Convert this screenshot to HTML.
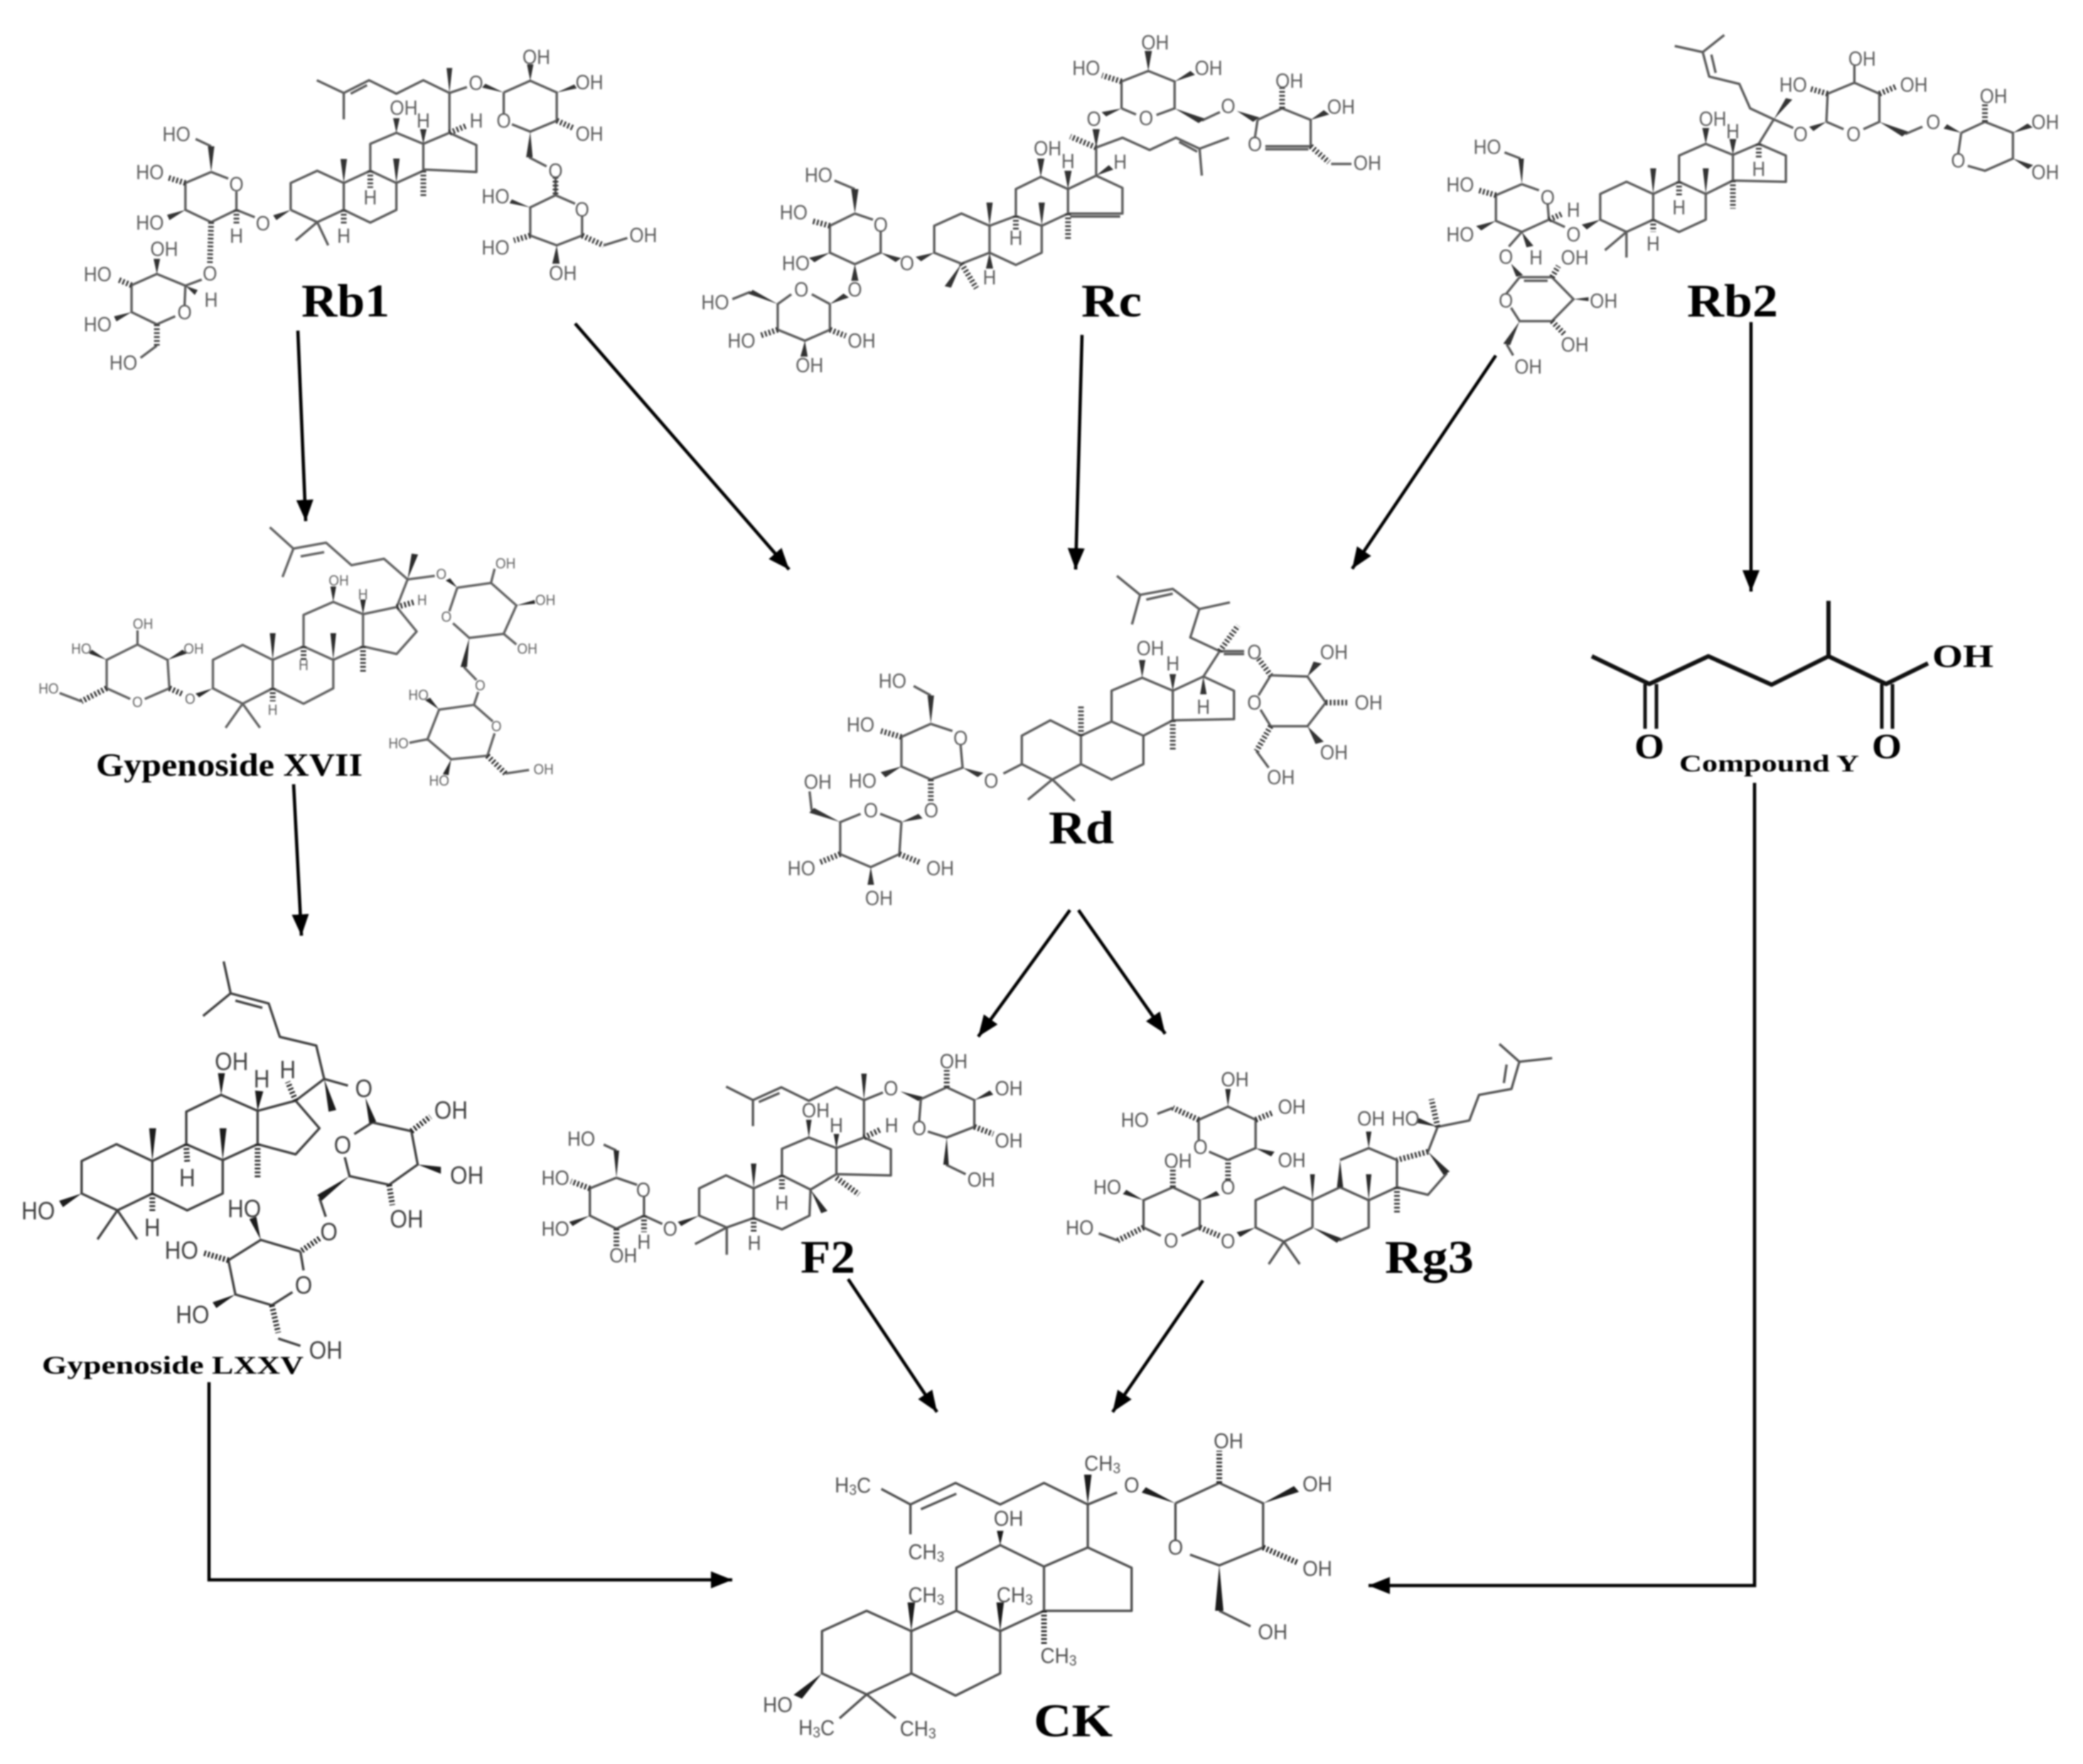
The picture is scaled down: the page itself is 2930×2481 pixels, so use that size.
<!DOCTYPE html>
<html><head><meta charset="utf-8"><style>
html,body{margin:0;padding:0;background:#fff}
svg{display:block;filter:blur(1.1px)}
.m text{font-family:"Liberation Sans",sans-serif;text-anchor:middle;dominant-baseline:central;transform-box:fill-box;transform-origin:center;transform:scale(.93,calc(var(--r)*1.03));fill:var(--c)}
.m path{fill:none;stroke:var(--c);stroke-width:3.4;vector-effect:non-scaling-stroke;stroke-linejoin:round}
.m path.w{fill:var(--k);stroke:none}
.m path.h{stroke:var(--k);stroke-width:8;stroke-dasharray:2.5 3}
.L{font-family:"Liberation Serif",serif;font-weight:bold;fill:#000}
.a{stroke:#000;stroke-width:4.6;fill:none;marker-end:url(#t)}
.s{font-size:.7em}
</style></head><body>
<svg xmlns="http://www.w3.org/2000/svg" width="2930" height="2481" viewBox="0 0 2930 2481">
<defs><marker id="t" markerUnits="userSpaceOnUse" markerWidth="34" markerHeight="26" refX="30" refY="13" orient="auto"><path d="M0 1 30 13 0 25z" fill="#000"/></marker></defs>
<rect width="2930" height="2481" fill="#fff"/>

<!-- Rb1 -->
<g class="m" transform="translate(80 20) scale(.574 .344)" style="--r:1.667;--c:#5c5c5c;--k:#333;font-size:49px">
<path d="M637 270 703 322 703 430M703 322 765 270 832 325 898 270 962 322 1005 298M720 325 760 290M962 322 962 485M1095 320 1160 272 1225 320 1225 435 1160 480 1115 450M1095 320 1095 410M1157 585 1200 622M1222 665 1222 740 1270 775M1287 825 1287 905 1225 945 1160 905 1160 790 1222 740M1340 945 1398 915M573 800 573 690 638 640 703 690 703 800 638 850 573 800M638 850 585 925M638 850 665 945M703 690 768 640 832 690 832 800 768 852 703 800M768 640 768 530 832 485 898 530 898 640 832 690M898 530 962 485 1028 535 1028 645 898 635M378 645 420 672M440 725 440 800 378 850 315 800 315 690 378 645M378 540 340 510M440 800 485 830M355 1085 315 1110 313 1190M290 1235 245 1268 183 1218 183 1108 245 1062 315 1110M245 1355 205 1405"/>
<path class="w" d="M962 322 955 220 969 220zM1095 320 1050 284 1042 300zM1160 272 1152 205 1168 205zM1225 320 1268 287 1274 303zM1160 480 1150 585 1166 585zM1160 790 1115 757 1109 773zM1225 945 1214 1020 1232 1020zM703 690 695 592 711 592zM832 690 824 590 840 590zM832 485 824 425 840 425zM898 530 890 470 906 470zM573 800 530 822 538 842zM378 645 370 540 386 540zM315 800 270 820 276 842zM245 1062 237 1000 253 1000zM183 1218 140 1235 146 1256zM315 1110 345 1128 338 1148z"/>
<path class="h" d="M1225 435 1265 465M1222 665 1222 740M1160 905 1120 925M1287 905 1340 945M703 800 703 860M768 640 768 710M962 485 1005 455M898 640 898 745M315 690 272 668M440 800 440 860M378 850 375 1020M183 1108 150 1085M245 1268 245 1355"/>
<text x="1027" y="280">O</text><text x="1175" y="175">OH</text><text x="1305" y="278">OH</text><text x="1095" y="435">O</text><text x="1305" y="488">OH</text><text x="1222" y="640">O</text><text x="1075" y="745">HO</text><text x="1287" y="798">O</text><text x="1075" y="953">HO</text><text x="1240" y="1058">OH</text><text x="1437" y="903">OH</text><text x="850" y="382">OH</text><text x="898" y="435">H</text><text x="1028" y="435">H</text><text x="768" y="748">H</text><text x="703" y="905">H</text><text x="505" y="855">O</text><text x="440" y="695">O</text><text x="293" y="490">HO</text><text x="228" y="645">HO</text><text x="228" y="852">HO</text><text x="440" y="905">H</text><text x="375" y="1060">O</text><text x="378" y="1168">H</text><text x="313" y="1218">O</text><text x="263" y="960">OH</text><text x="100" y="1062">HO</text><text x="100" y="1268">HO</text><text x="163" y="1425">HO</text>
</g>

<!-- Rc -->
<g class="m" transform="translate(960 20) scale(.638 .344)" style="--r:1.853;--c:#5c5c5c;--k:#333;font-size:44px">
<path d="M968 275 1027 232 1085 275 1085 385 1045 412M968 385 1000 410M968 385 968 275M1145 435 1185 400M1268 432 1322 385 1385 432 1385 540 1285 540M1285 552 1380 552M1268 432 1262 505M1430 612 1475 612M912 545 970 505 1030 555 1088 505 1140 550 1205 505M1140 550 1145 660M1095 522 1135 562M912 545 912 660 970 710 970 815 850 815 850 715 912 660M855 827 965 827M850 715 790 665 735 715 735 825 792 865 850 815M735 825 677 865 677 975 735 1025 792 975 792 865M677 865 615 815 555 865 555 975 615 1020 677 975M380 815 420 840M437 885 437 975 380 1022 325 975 325 865 380 815M380 715 335 680M325 1185 285 1145M240 1145 210 1185 210 1290 270 1335 325 1290 325 1185M150 1135 110 1165"/>
<path class="w" d="M1027 232 1019 150 1035 150zM968 385 924 400 934 418zM912 545 904 470 920 470zM1085 385 1138 445 1152 427zM1222 395 1258 440 1272 422zM1385 432 1414 392 1426 410zM912 660 940 617 950 635zM790 665 782 590 798 590zM850 715 842 640 858 640zM792 865 785 770 799 770zM677 865 670 770 684 770zM677 975 669 1040 685 1040zM615 1020 578 1112 592 1118zM555 975 514 992 526 1010zM380 815 372 715 388 715zM325 975 279 996 291 1014zM437 975 470 1013 482 997zM380 1022 372 1090 388 1090zM325 1185 355 1142 367 1158zM210 1185 145 1143 155 1127zM270 1335 260 1400 276 1400zM1085 275 1120 232 1130 248z"/>
<path class="h" d="M968 275 925 250M1322 385 1322 300M1385 540 1425 605M912 545 855 500M850 815 850 925M735 825 735 880M615 1020 648 1120M325 865 285 845M210 1290 170 1315M325 1290 360 1315"/>
<text x="1042" y="115">OH</text><text x="890" y="220">HO</text><text x="1160" y="220">OH</text><text x="1022" y="425">O</text><text x="907" y="428">O</text><text x="1203" y="375">O</text><text x="1338" y="272">OH</text><text x="1452" y="378">OH</text><text x="1262" y="530">O</text><text x="1510" y="607">OH</text><text x="965" y="603">H</text><text x="805" y="548">OH</text><text x="850" y="600">H</text><text x="735" y="915">H</text><text x="677" y="1075">H</text><text x="495" y="1018">O</text><text x="437" y="860">O</text><text x="300" y="657">HO</text><text x="245" y="810">HO</text><text x="250" y="1018">HO</text><text x="380" y="1125">O</text><text x="262" y="1125">O</text><text x="72" y="1178">HO</text><text x="130" y="1335">HO</text><text x="395" y="1335">OH</text><text x="280" y="1435">OH</text>
</g>

<!-- Rb2 -->
<g class="m" transform="translate(1980 20) scale(.606 .344)" style="--r:1.76;--c:#5c5c5c;--k:#333;font-size:46px">
<path d="M620 130 685 155 735 85M685 155 700 255 770 285 795 385 850 430 895 465M705 165 715 240M850 430 815 530 878 578 878 685 755 680 755 575 815 530M972 440 975 325 1037 280 1095 325 1095 440 1058 470M972 440 1012 470M1037 280 1037 210M1155 490 1195 460M1285 485 1340 440 1405 485 1405 590 1340 640 1300 620M1285 485 1278 570M755 575 692 530 630 578 630 685 692 735 755 680M630 685 570 735 570 840 630 890 692 840 692 735M570 735 508 685 447 735 447 840 508 890 570 840M508 890 458 965M508 890 508 995M265 695 305 720M325 775 328 840 265 890 205 845 205 740 265 695M262 590 225 565M328 840 365 870M265 890 235 950M260 1075 335 1075 385 1165 335 1255 260 1255 240 1200M228 1145 260 1075M270 1090 325 1090M230 1350 245 1395"/>
<path class="w" d="M850 430 878 343 893 349zM972 440 932 460 942 478zM1095 440 1148 500 1162 480zM1285 485 1244 468 1252 450zM1405 485 1439 447 1451 463zM1405 590 1440 633 1452 617zM692 530 684 465 700 465zM755 575 747 510 763 510zM692 735 685 630 699 630zM570 735 563 630 577 630zM447 840 404 860 416 880zM265 695 257 590 270 590zM205 845 159 866 171 884zM265 890 276 953 292 947zM240 1020 252 1073 268 1067zM385 1165 420 1157 420 1173zM260 1255 222 1347 238 1353z"/>
<path class="h" d="M975 325 935 305M1095 325 1135 295M1340 440 1340 365M815 530 815 590M755 680 755 795M630 685 630 745M570 840 570 890M205 740 165 720M328 840 360 815M335 1075 350 1030M335 1255 365 1310"/>
<text x="912" y="490">O</text><text x="1035" y="490">O</text><text x="1055" y="182">OH</text><text x="895" y="288">HO</text><text x="1175" y="288">OH</text><text x="1220" y="440">O</text><text x="1278" y="598">O</text><text x="1360" y="335">OH</text><text x="1480" y="440">OH</text><text x="1480" y="645">OH</text><text x="815" y="633">H</text><text x="708" y="428">OH</text><text x="755" y="478">H</text><text x="630" y="790">H</text><text x="570" y="937">H</text><text x="385" y="900">O</text><text x="325" y="748">O</text><text x="185" y="542">HO</text><text x="122" y="697">HO</text><text x="122" y="900">HO</text><text x="385" y="800">H</text><text x="298" y="995">H</text><text x="228" y="992">O</text><text x="388" y="995">OH</text><text x="228" y="1170">O</text><text x="455" y="1172">OH</text><text x="388" y="1350">OH</text><text x="280" y="1440">OH</text>
</g>

<!-- Gypenoside XVII -->
<g class="m" transform="translate(20 700) scale(.51 .333)" style="--r:1.53;--c:#636363;--k:#2a2a2a;font-size:40px">
<path d="M705 125 770 215 740 335M770 215 860 190 930 285 1020 258 1085 345 1160 330M790 248 855 230M1222 380 1200 480M1210 530 1255 592 1350 575 1385 455 1315 360 1222 380M1315 360 1325 300M1350 575 1385 620M1240 715 1275 770M1280 820 1268 875 1320 945M1325 995 1305 1090 1205 1105 1140 1020 1172 895 1268 875M1140 1020 1090 1035M1355 1165 1420 1150M1085 345 1055 462 1110 565 1055 660 962 628 962 492 1055 462M962 492 880 440 798 495 798 628 880 685 962 628M798 628 713 685 713 805 798 870 880 805 880 685M713 685 630 622 548 685 548 805 630 870 713 805M630 870 583 972M630 870 678 972M428 805 360 850M320 850 255 805 255 685 340 620 423 685 428 805M340 620 340 560M185 860 125 825"/>
<path class="w" d="M1085 345 1096 236 1114 240zM1222 380 1190 350 1202 340zM1385 455 1435 432 1437 448zM1255 592 1231 715 1249 715zM1172 895 1133 855 1147 845zM1205 1105 1182 1168 1198 1172zM880 440 872 375 888 375zM962 492 954 430 970 430zM880 685 872 572 888 572zM713 685 705 572 721 572zM548 805 500 827 510 843zM255 685 214 642 206 658zM423 685 464 642 476 658z"/>
<path class="h" d="M1305 1090 1355 1165M1055 462 1105 440M962 628 962 740M798 628 798 685M713 805 713 860M428 805 465 830M255 805 185 860"/>
<text x="1178" y="325">O</text><text x="1355" y="280">OH</text><text x="1465" y="435">OH</text><text x="1192" y="505">O</text><text x="1415" y="640">OH</text><text x="1285" y="795">O</text><text x="1330" y="968">O</text><text x="1115" y="835">HO</text><text x="1060" y="1040">HO</text><text x="1172" y="1198">HO</text><text x="1460" y="1150">OH</text><text x="1125" y="435">H</text><text x="895" y="352">OH</text><text x="962" y="410">H</text><text x="798" y="710">H</text><text x="713" y="898">H</text><text x="485" y="852">O</text><text x="340" y="865">O</text><text x="355" y="535">OH</text><text x="185" y="640">HO</text><text x="495" y="640">OH</text><text x="95" y="808">HO</text>
</g>

<!-- Rd -->
<g class="m" transform="translate(1090 790) scale(.574 .333)" style="--r:1.72;--c:#5c5c5c;--k:#333;font-size:49px">
<path d="M838 60 895 140 875 265M895 140 975 115 1040 200 1115 172M910 160 975 135M1040 200 1018 320 1090 378 1150 378M1100 390 1150 390M1215 480 1185 565M1190 625 1215 695 1305 695 1350 595 1305 485 1215 480M1180 800 1210 870M1090 378 1050 485 1125 545 1125 665 975 670 975 545 1050 485M975 545 900 490 825 545 825 675 903 735 975 670M825 675 750 735 750 855 825 920 903 855 903 735M750 735 675 670 605 735 605 855 680 920 750 855M680 920 620 1005M680 920 735 1010M605 855 560 895M382 685 435 715M455 775 460 870 382 920 310 865 310 740 382 685M382 565 340 525M310 1100 258 1065M210 1065 160 1100 160 1235 235 1290 305 1235 310 1100M90 1050 85 970"/>
<path class="w" d="M1305 485 1320 422 1340 430zM1305 695 1325 770 1345 760zM1050 485 1042 560 1058 560zM900 490 892 415 908 415zM975 545 967 475 983 475zM460 870 497 910 511 892zM382 685 374 565 390 565zM310 865 259 889 271 911zM310 1100 352 1065 362 1085zM160 1100 84 1060 96 1040zM235 1290 227 1365 243 1365z"/>
<path class="h" d="M1090 378 1135 270M1185 410 1215 480M1350 595 1405 595M1215 695 1180 800M975 670 975 800M750 735 750 605M310 740 260 715M382 920 382 1020M160 1235 110 1270M305 1235 355 1270"/>
<text x="1175" y="382">O</text><text x="1370" y="382">OH</text><text x="1175" y="595">O</text><text x="1455" y="595">OH</text><text x="1370" y="805">OH</text><text x="1240" y="910">OH</text><text x="1050" y="612">H</text><text x="920" y="365">OH</text><text x="975" y="430">H</text><text x="530" y="925">O</text><text x="455" y="745">O</text><text x="288" y="503">HO</text><text x="210" y="688">HO</text><text x="215" y="925">HO</text><text x="383" y="1050">O</text><text x="235" y="1050">O</text><text x="105" y="930">OH</text><text x="65" y="1295">HO</text><text x="405" y="1295">OH</text><text x="255" y="1420">OH</text>
</g>

<!-- Gypenoside LXXV -->
<g class="m" transform="translate(10 1340) scale(.446 .408)" style="--r:1.094;--c:#404040;--k:#1c1c1c;font-size:76px">
<path d="M683 30 705 140 618 218M705 140 825 175 860 290 975 320 1000 435 910 510M720 165 805 190M1000 435 1075 458M1152 585 1095 625M1065 705 1080 770 1205 800 1295 730 1275 615 1152 585M985 845 1005 910M925 1030 935 1095M900 1170 835 1215 720 1178 698 1060 800 990 925 1030M855 1330 925 1355M910 510 985 605 910 695 790 660 790 545 910 510M790 545 675 490 565 548 565 660 680 715 790 660M565 660 458 718 458 830 568 888 680 830 680 715M458 718 345 660 235 718 235 830 348 888 458 830M348 888 285 988M348 888 410 988"/>
<path class="w" d="M1000 435 1014 548 1038 542zM1130 500 1142 588 1164 582zM1295 730 1368 738 1368 762zM1080 770 978 835 992 855zM800 990 764 918 786 910zM720 1178 648 1205 660 1225zM675 490 665 415 687 415zM790 545 782 475 808 478zM680 715 670 605 692 605zM458 718 448 605 470 605zM235 830 164 855 176 877z"/>
<path class="h" d="M1275 615 1335 565M1205 800 1215 870M985 985 925 1030M698 1060 620 1035M835 1215 855 1310M910 510 885 445M790 660 790 775M565 660 568 725M458 830 458 895"/>
<text x="1125" y="470">O</text><text x="1400" y="545">OH</text><text x="1450" y="770">OH</text><text x="1058" y="665">O</text><text x="1260" y="920">OH</text><text x="1015" y="965">O</text><text x="748" y="885">HO</text><text x="550" y="1028">HO</text><text x="935" y="1148">O</text><text x="585" y="1250">HO</text><text x="1005" y="1372">OH</text><text x="708" y="378">OH</text><text x="803" y="438">H</text><text x="885" y="405">H</text><text x="568" y="778">H</text><text x="458" y="950">H</text><text x="98" y="892">HO</text>
</g>

<!-- F2 -->
<g class="m" transform="translate(740 1460) scale(.485 .333)" style="--r:1.455;--c:#555;--k:#2a2a2a;font-size:58px">
<path d="M580 205 658 262 658 372M658 262 740 208 820 265 900 208 980 262 1035 230M675 270 735 232M1145 258 1140 350M1165 395 1220 420 1300 375 1300 262 1220 208 1145 258M1218 535 1275 575M980 262 980 420 1058 470 1058 580 900 575 900 465 980 420M900 465 820 420 742 468 742 580 825 640 900 575M742 580 660 635 660 760 742 808 822 750 825 640M660 635 580 580 502 635 502 750 582 800 660 760M582 800 490 870M582 800 582 915M262 590 322 620M342 670 342 750 262 805 185 750 185 635 262 590M262 475 225 450M342 750 395 785"/>
<path class="w" d="M980 262 972 150 988 150zM1085 225 1138 266 1150 248zM1300 262 1345 221 1355 239zM1220 420 1210 535 1226 535zM820 420 812 345 828 345zM900 465 892 405 908 405zM825 640 856 740 874 730zM660 635 652 530 668 530zM502 750 440 776 450 794zM262 590 254 475 270 475zM185 750 125 776 135 794z"/>
<path class="h" d="M1220 208 1220 135M1300 375 1355 405M980 420 1030 385M900 590 965 660M742 580 742 645M660 760 660 820M185 635 130 605M342 750 342 820M262 805 262 880"/>
<text x="1058" y="212">O</text><text x="1240" y="98">OH</text><text x="1400" y="212">OH</text><text x="1140" y="380">O</text><text x="1400" y="432">OH</text><text x="1320" y="597">OH</text><text x="1060" y="368">H</text><text x="840" y="305">OH</text><text x="900" y="368">H</text><text x="742" y="695">H</text><text x="662" y="865">H</text><text x="418" y="805">O</text><text x="340" y="642">O</text><text x="160" y="425">HO</text><text x="85" y="590">HO</text><text x="85" y="805">HO</text><text x="342" y="860">H</text><text x="282" y="918">OH</text>
</g>

<!-- Rg3 -->
<g class="m" transform="translate(1480 1460) scale(.485 .333)" style="--r:1.455;--c:#555;--k:#2a2a2a;font-size:58px">
<path d="M1297 25 1355 100 1450 85M1355 100 1332 215 1238 240 1210 348 1118 375 1090 480M1318 112 1310 190M1145 570 1090 662 1000 630 1000 515 918 465 835 515M835 630 918 685 1000 630M835 630 755 685 755 800M832 855 918 800 918 685M755 685 672 630 590 685 590 800 672 860 755 800M672 860 628 955M672 860 718 955M428 800 375 835M315 835 265 800 265 685 350 630 428 685 428 800M190 855 135 825M510 515 590 465 590 345 510 290 425 345 425 430M510 515 455 480M350 295 305 320"/>
<path class="w" d="M1118 375 1064 338 1056 358zM1090 480 1135 578 1153 564zM835 515 826 630 844 630zM918 465 910 395 926 395zM918 685 910 575 926 575zM755 800 826 865 838 845zM755 685 748 575 762 575zM590 800 535 820 545 840zM265 685 215 641 205 659zM428 685 476 646 486 664zM510 290 502 215 518 215zM590 465 635 500 645 480z"/>
<path class="h" d="M1118 375 1100 258M1090 480 1000 515M1000 630 1000 745M428 800 485 835M350 630 350 545M265 800 190 855M510 600 510 515M590 345 640 315M425 345 350 295"/>
<text x="1025" y="340">HO</text><text x="925" y="340">OH</text><text x="510" y="858">O</text><text x="345" y="855">O</text><text x="365" y="518">OH</text><text x="160" y="630">HO</text><text x="80" y="800">HO</text><text x="510" y="630">O</text><text x="430" y="460">O</text><text x="530" y="175">OH</text><text x="695" y="290">OH</text><text x="695" y="515">OH</text><text x="240" y="345">HO</text>
</g>

<!-- CK -->
<g class="m" transform="translate(1040 1990) scale(.587 .336)" style="--r:1.747;--c:#505050;--k:#1c1c1c;font-size:51px">
<path d="M340 310 410 375 410 500M410 375 518 285 625 375 730 285 835 375 905 325M435 395 520 330M1045 370 1150 285 1255 370 1255 555 1150 630 1080 585M1045 370 1045 525M1150 820 1225 885M835 375 835 555 940 640 940 820 730 820 730 635 835 555M730 635 625 545 520 640 520 820 625 905 730 820M520 820 412 905 412 1082 518 1175 625 1082 625 905M412 905 305 820 198 905 198 1082 305 1170 412 1082M305 1170 240 1270M305 1170 375 1270"/>
<path class="w" d="M835 375 826 250 844 250zM1045 370 974 303 964 325zM1255 370 1329 298 1341 322zM1150 630 1140 820 1160 820zM625 545 617 485 633 485zM412 905 403 785 421 785zM625 905 616 785 634 785zM198 1082 130 1172 150 1188z"/>
<path class="h" d="M1150 285 1150 150M1255 555 1340 620M730 820 730 960"/>
<text x="940" y="295">O</text><text x="1172" y="110">OH</text><text x="1385" y="290">OH</text><text x="1045" y="555">O</text><text x="1385" y="645">OH</text><text x="1278" y="910">OH</text><text x="645" y="435">OH</text><text x="92" y="1215">HO</text>
<text x="272" y="295">H<tspan class="s" dy="10">3</tspan><tspan dy="-10">C</tspan></text>
<text x="448" y="575">CH<tspan class="s" dy="10">3</tspan></text>
<text x="870" y="205">CH<tspan class="s" dy="10">3</tspan></text>
<text x="448" y="755">CH<tspan class="s" dy="10">3</tspan></text>
<text x="660" y="755">CH<tspan class="s" dy="10">3</tspan></text>
<text x="765" y="1010">CH<tspan class="s" dy="10">3</tspan></text>
<text x="185" y="1310">H<tspan class="s" dy="10">3</tspan><tspan dy="-10">C</tspan></text>
<text x="428" y="1315">CH<tspan class="s" dy="10">3</tspan></text>
</g>

<!-- Compound Y -->
<g fill="none" stroke="#111" stroke-width="6" stroke-linejoin="round">
<path d="M2239 923 2320 962 2403 923 2492 963 2572 923 2653 962 2712 933M2572 923 2572 845"/>
<path stroke-width="5" d="M2314 962V1025M2330 962V1025M2647 962V1025M2662 962V1025"/>
</g>
<text class="L" x="2299" y="1066" font-size="50" textLength="42" lengthAdjust="spacingAndGlyphs">O</text>
<text class="L" x="2633" y="1066" font-size="50" textLength="42" lengthAdjust="spacingAndGlyphs">O</text>
<text class="L" x="2718" y="938" font-size="46" textLength="86" lengthAdjust="spacingAndGlyphs">OH</text>
<text class="L" x="2362" y="1085" font-size="34" textLength="253" lengthAdjust="spacingAndGlyphs">Compound Y</text>

<!-- Compound names -->
<text class="L" x="424" y="445" font-size="66" textLength="124" lengthAdjust="spacingAndGlyphs">Rb1</text>
<text class="L" x="1521" y="445" font-size="66" textLength="85" lengthAdjust="spacingAndGlyphs">Rc</text>
<text class="L" x="2373" y="445" font-size="66" textLength="128" lengthAdjust="spacingAndGlyphs">Rb2</text>
<text class="L" x="135" y="1091" font-size="46" textLength="375" lengthAdjust="spacingAndGlyphs">Gypenoside XVII</text>
<text class="L" x="1475" y="1186" font-size="66" textLength="92" lengthAdjust="spacingAndGlyphs">Rd</text>
<text class="L" x="59" y="1932" font-size="36" textLength="368" lengthAdjust="spacingAndGlyphs">Gypenoside LXXV</text>
<text class="L" x="1126" y="1790" font-size="66" textLength="77" lengthAdjust="spacingAndGlyphs">F2</text>
<text class="L" x="1948" y="1790" font-size="66" textLength="125" lengthAdjust="spacingAndGlyphs">Rg3</text>
<text class="L" x="1454" y="2442" font-size="66" textLength="111" lengthAdjust="spacingAndGlyphs">CK</text>

<!-- Arrows -->
<path class="a" d="M419 465 430 733"/>
<path class="a" d="M809 455 1110 801"/>
<path class="a" d="M1522 471 1513 801"/>
<path class="a" d="M2104 500 1902 800"/>
<path class="a" d="M2463 453 2463 832"/>
<path class="a" d="M413 1103 424 1316"/>
<path class="a" d="M294 1944V2222H1030"/>
<path class="a" d="M2468 1101V2230H1925"/>
<path class="a" d="M1505 1280 1376 1458"/>
<path class="a" d="M1517 1280 1639 1454"/>
<path class="a" d="M1193 1799 1318 1986"/>
<path class="a" d="M1692 1801 1565 1986"/>
</svg>
</body></html>
